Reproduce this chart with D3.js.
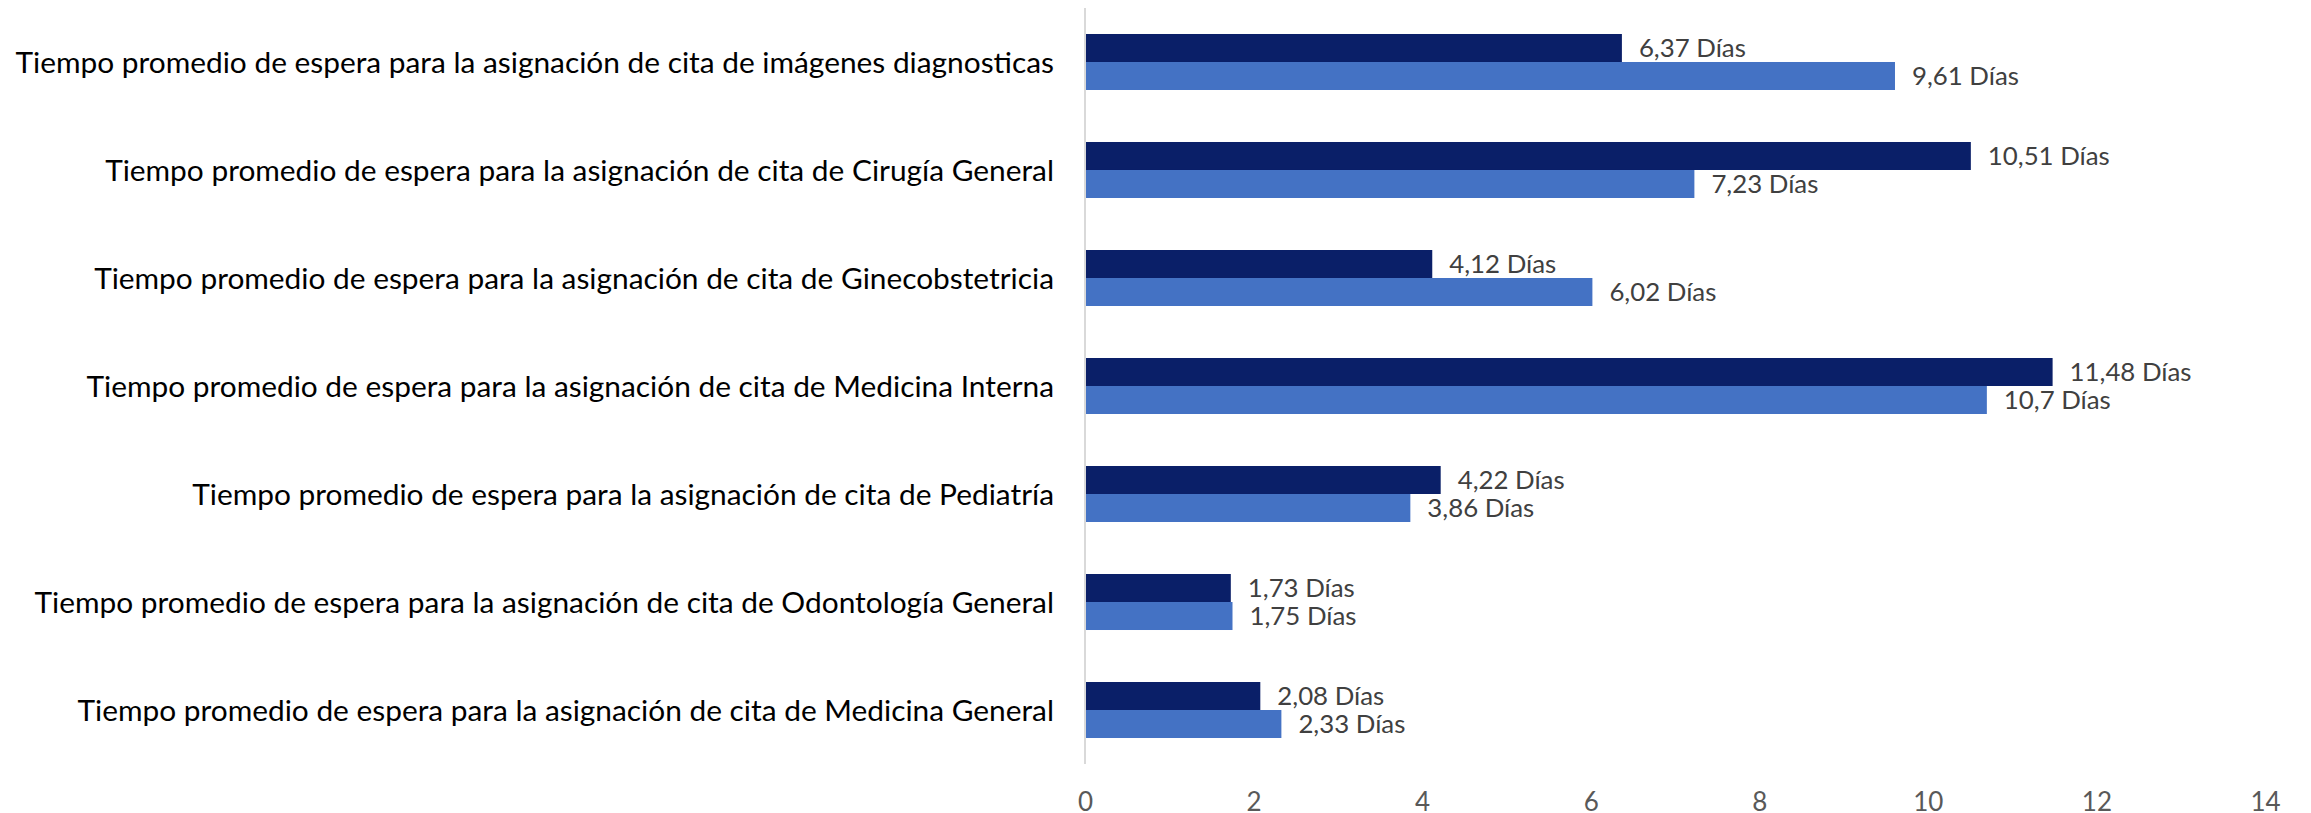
<!DOCTYPE html>
<html>
<head>
<meta charset="utf-8">
<script src="https://cdn.jsdelivr.net/npm/d3@7"></script>
<style>
  html, body { margin: 0; padding: 0; background: #fff; }
  svg { display: block; }
</style>
</head>
<body>
<svg id="chart" width="2311" height="813"></svg>
<script>
const categories = [
  "Tiempo promedio de espera para la asignación de cita de imágenes diagnosticas",
  "Tiempo promedio de espera para la asignación de cita de Cirugía General",
  "Tiempo promedio de espera para la asignación de cita de Ginecobstetricia",
  "Tiempo promedio de espera para la asignación de cita de Medicina Interna",
  "Tiempo promedio de espera para la asignación de cita de Pediatría",
  "Tiempo promedio de espera para la asignación de cita de Odontología General",
  "Tiempo promedio de espera para la asignación de cita de Medicina General"
];
const seriesNames = ["Serie 1", "Serie 2"];
const series1 = [6.37, 10.51, 4.12, 11.48, 4.22, 1.73, 2.08];
const series2 = [9.61, 7.23, 6.02, 10.7, 3.86, 1.75, 2.33];
const valueLabels1 = ["6,37 Días", "10,51 Días", "4,12 Días", "11,48 Días", "4,22 Días", "1,73 Días", "2,08 Días"];
const valueLabels2 = ["9,61 Días", "7,23 Días", "6,02 Días", "10,7 Días", "3,86 Días", "1,75 Días", "2,33 Días"];
const tickValues = [0, 2, 4, 6, 8, 10, 12, 14];
const colors = ["#0a1f68", "#4472c4"];

const FONT = "Lato, 'Open Sans', sans-serif";
const svg = d3.select("#chart");
const margin = {left: 1085, right: 46, top: 8, bottom: 49};
const W = 2311, H = 813;

const x = d3.scaleLinear().domain([0, 14]).range([margin.left, W - margin.right]);
const y = d3.scaleBand().domain(categories).range([margin.top, H - margin.bottom]).paddingInner(0.4815).paddingOuter(0.2407);
const sub = d3.scaleBand().domain(seriesNames).range([0, y.bandwidth()]);

const data = categories.map((c, i) => ({
  cat: c,
  vals: [
    {s: seriesNames[0], v: series1[i], lab: valueLabels1[i]},
    {s: seriesNames[1], v: series2[i], lab: valueLabels2[i]}
  ]
}));

// bars
const g = svg.append("g");
const grp = g.selectAll("g.cat").data(data).join("g")
  .attr("class", "cat")
  .attr("transform", d => `translate(0,${y(d.cat)})`);

grp.selectAll("rect").data(d => d.vals).join("rect")
  .attr("x", x(0))
  .attr("y", d => sub(d.s))
  .attr("width", d => x(d.v) - x(0))
  .attr("height", sub.bandwidth())
  .attr("fill", (d, i) => colors[i]);

const vl = grp.selectAll("text.val").data(d => d.vals).join("text")
  .attr("class", "val")
  .attr("x", d => x(d.v) + 17)
  .attr("y", d => sub(d.s) + sub.bandwidth() / 2)
  .attr("dy", "0.36em")
  .attr("font-family", FONT)
  .attr("font-size", 24)
  .attr("fill", "#404040")
  .text(d => d.lab);
// fit value label size so "6,37 Días" spans ~107px
{
  const n = vl.nodes()[0];
  const w = n.getComputedTextLength();
  const fs = 24 * 107 / w;
  vl.attr("font-size", fs);
}

// category axis (labels)
const yAxis = d3.axisLeft(y).tickSize(0).tickPadding(31);
const ya = svg.append("g").attr("transform", `translate(${x(0)},0)`).call(yAxis);
ya.select(".domain").remove();
const cl = ya.selectAll("text")
  .attr("font-family", FONT)
  .attr("font-size", 28)
  .attr("fill", "#000")
  .attr("dy", "0.36em");
{
  const maxW = d3.max(cl.nodes(), n => n.getComputedTextLength());
  cl.attr("font-size", 28 * 1039 / maxW);
}

// vertical axis line
svg.append("line")
  .attr("x1", x(0)).attr("x2", x(0))
  .attr("y1", margin.top).attr("y2", H - margin.bottom)
  .attr("stroke", "#d9d9d9").attr("stroke-width", 2);

// value axis
const xAxis = d3.axisBottom(x).tickValues(tickValues).tickSize(0).tickPadding(0).tickFormat(d3.format("d"));
const xa = svg.append("g").attr("transform", `translate(0,${H - margin.bottom})`).call(xAxis);
xa.select(".domain").remove();
xa.selectAll("text")
  .attr("font-family", FONT)
  .attr("font-size", 26)
  .attr("fill", "#595959")
  .attr("dy", null)
  .attr("y", 47);
</script>
</body>
</html>
